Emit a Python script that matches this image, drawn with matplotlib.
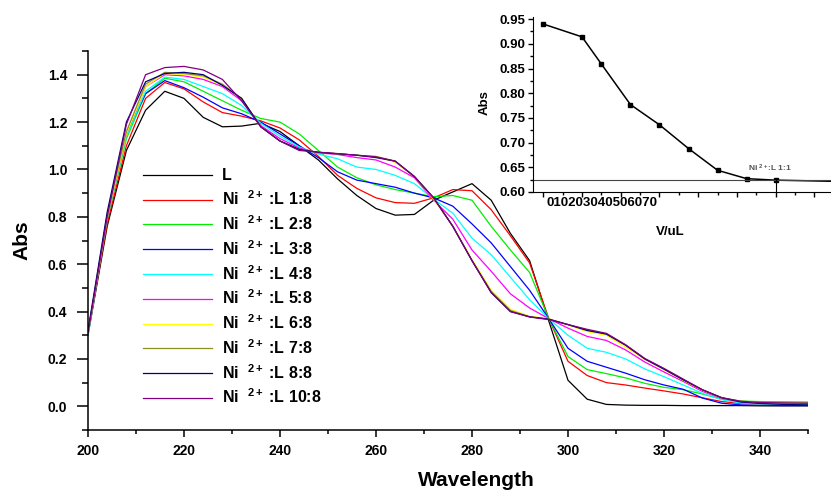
import matplotlib
matplotlib.use('Agg')
import matplotlib.pyplot as plt
from matplotlib.ticker import MultipleLocator

plt.rcParams['font.family'] = 'Liberation Sans'
plt.rcParams['font.weight'] = 'bold'
plt.rcParams['mathtext.fontset'] = 'custom'
plt.rcParams['mathtext.rm'] = 'Liberation Sans:bold'
plt.rcParams['mathtext.it'] = 'Liberation Sans:bold'
plt.rcParams['mathtext.bf'] = 'Liberation Sans:bold'
plt.rcParams['mathtext.default'] = 'rm'

# spettri UV-vis
wavelength = [200, 204, 208, 212, 216, 220, 224, 228, 232, 236, 240, 244, 248, 252,
              256, 260, 264, 268, 272, 276, 280, 284, 288, 292, 296, 300, 304, 308,
              312, 316, 320, 324, 328, 332, 336, 340, 345, 350]

abs_L = [0.30, 0.76, 1.08, 1.25, 1.33, 1.30, 1.22, 1.18, 1.183, 1.195, 1.16, 1.10, 1.04, 0.96,
         0.89, 0.835, 0.807, 0.81, 0.87, 0.905, 0.94, 0.87, 0.73, 0.615, 0.36, 0.11, 0.03, 0.008,
         0.005, 0.004, 0.004, 0.003, 0.003, 0.003, 0.003, 0.002, 0.002, 0.002]
abs_1_8 = [0.31, 0.77, 1.10, 1.30, 1.367, 1.34, 1.285, 1.24, 1.225, 1.205, 1.175, 1.125, 1.055, 0.975,
           0.92, 0.88, 0.86, 0.857, 0.88, 0.915, 0.91, 0.83, 0.72, 0.605, 0.37, 0.19, 0.13, 0.10,
           0.09, 0.077, 0.065, 0.052, 0.036, 0.02, 0.012, 0.01, 0.009, 0.008]
abs_2_8 = [0.31, 0.79, 1.13, 1.32, 1.385, 1.37, 1.33, 1.29, 1.25, 1.215, 1.20, 1.15, 1.08, 1.01,
           0.965, 0.935, 0.915, 0.90, 0.885, 0.89, 0.87, 0.76, 0.66, 0.565, 0.37, 0.21, 0.155, 0.138,
           0.12, 0.097, 0.08, 0.07, 0.052, 0.03, 0.022, 0.02, 0.019, 0.018]
abs_3_8 = [0.31, 0.80, 1.15, 1.32, 1.375, 1.345, 1.305, 1.26, 1.235, 1.20, 1.15, 1.10, 1.05, 0.99,
           0.955, 0.94, 0.925, 0.90, 0.88, 0.845, 0.77, 0.69, 0.59, 0.49, 0.37, 0.245, 0.19, 0.165,
           0.14, 0.112, 0.09, 0.072, 0.035, 0.013, 0.006, 0.004, 0.003, 0.003]
abs_4_8 = [0.30, 0.80, 1.14, 1.33, 1.39, 1.38, 1.35, 1.32, 1.27, 1.195, 1.14, 1.095, 1.065, 1.045,
           1.01, 1.0, 0.975, 0.94, 0.875, 0.815, 0.71, 0.64, 0.545, 0.45, 0.37, 0.30, 0.245, 0.228,
           0.20, 0.158, 0.125, 0.09, 0.055, 0.028, 0.014, 0.01, 0.009, 0.008]
abs_5_8 = [0.31, 0.80, 1.15, 1.35, 1.40, 1.395, 1.38, 1.35, 1.29, 1.185, 1.13, 1.09, 1.07, 1.063,
           1.05, 1.04, 1.01, 0.965, 0.87, 0.79, 0.66, 0.57, 0.475, 0.415, 0.37, 0.33, 0.295, 0.278,
           0.238, 0.187, 0.145, 0.105, 0.063, 0.033, 0.02, 0.015, 0.013, 0.011]
abs_6_8 = [0.31, 0.80, 1.15, 1.35, 1.405, 1.40, 1.39, 1.355, 1.30, 1.18, 1.12, 1.085, 1.072, 1.066,
           1.06, 1.055, 1.03, 0.97, 0.875, 0.76, 0.62, 0.49, 0.41, 0.38, 0.37, 0.343, 0.315, 0.30,
           0.25, 0.198, 0.155, 0.11, 0.068, 0.035, 0.02, 0.015, 0.013, 0.012]
abs_7_8 = [0.31, 0.81, 1.16, 1.36, 1.41, 1.405, 1.395, 1.36, 1.30, 1.18, 1.12, 1.085, 1.072, 1.066,
           1.06, 1.055, 1.035, 0.97, 0.88, 0.76, 0.615, 0.485, 0.405, 0.378, 0.368, 0.345, 0.322, 0.305,
           0.258, 0.20, 0.157, 0.112, 0.068, 0.036, 0.022, 0.017, 0.015, 0.014]
abs_8_8 = [0.32, 0.82, 1.20, 1.37, 1.405, 1.41, 1.40, 1.355, 1.30, 1.18, 1.12, 1.085, 1.072, 1.066,
           1.06, 1.05, 1.035, 0.97, 0.88, 0.76, 0.615, 0.48, 0.40, 0.378, 0.368, 0.345, 0.32, 0.305,
           0.258, 0.20, 0.157, 0.112, 0.07, 0.036, 0.018, 0.012, 0.008, 0.006]
abs_10_8 = [0.31, 0.80, 1.19, 1.40, 1.43, 1.435, 1.42, 1.38, 1.29, 1.18, 1.12, 1.08, 1.073, 1.067,
            1.06, 1.053, 1.035, 0.97, 0.88, 0.76, 0.615, 0.48, 0.40, 0.377, 0.366, 0.345, 0.325, 0.308,
            0.26, 0.202, 0.16, 0.115, 0.07, 0.037, 0.021, 0.016, 0.014, 0.013]

series = [abs_L, abs_1_8, abs_2_8, abs_3_8, abs_4_8, abs_5_8, abs_6_8, abs_7_8, abs_8_8, abs_10_8]
labels = ['L', 'Ni  $^{2+}$ :L 1:8', 'Ni  $^{2+}$ :L 2:8', 'Ni  $^{2+}$ :L 3:8', 'Ni  $^{2+}$ :L 4:8',
          'Ni  $^{2+}$ :L 5:8', 'Ni  $^{2+}$ :L 6:8', 'Ni  $^{2+}$ :L 7:8', 'Ni  $^{2+}$ :L 8:8',
          'Ni  $^{2+}$ :L 10:8']
colors = ['black', 'red', '#00ee00', 'blue', 'cyan', 'magenta', 'yellow', '#8f8f20', 'navy', 'purple']

# inserto: titolazione
volume = [0, 10, 15, 22.5, 30, 37.5, 45, 52.5, 60]
abs_inset = [0.940, 0.914, 0.859, 0.777, 0.736, 0.688, 0.644, 0.627, 0.624]
tail_x = [60, 76]
tail_y = [0.624, 0.6215]
plateau = 0.625

fig = plt.figure(figsize=(8.31, 4.91), dpi=100)
ax = fig.add_axes([88 / 831, 61 / 491, 720 / 831, 379 / 491])

for y, lab, c in zip(series, labels, colors):
    ax.plot(wavelength, y, color=c, lw=0.9, label=lab)

ax.set_xlim(200, 350)
ax.set_ylim(-0.1, 1.5)
ax.xaxis.set_major_locator(MultipleLocator(20))
ax.xaxis.set_minor_locator(MultipleLocator(10))
ax.yaxis.set_major_locator(MultipleLocator(0.2))
ax.yaxis.set_minor_locator(MultipleLocator(0.1))
ax.yaxis.set_major_formatter(plt.FuncFormatter(lambda v, p: '%.1f' % v))
for s in ['top', 'right']:
    ax.spines[s].set_visible(False)
for s in ['left', 'bottom']:
    ax.spines[s].set_linewidth(1.1)
ax.tick_params(which='both', direction='out', width=1.1, labelsize=10)
ax.tick_params(axis='x', which='major', length=5, pad=5)
ax.tick_params(axis='x', which='minor', length=3)
ax.tick_params(axis='y', which='major', length=8, pad=7)
ax.tick_params(axis='y', which='minor', length=4.3)
ax.set_ylabel('Abs', fontsize=15, fontweight='bold', labelpad=12)
ax.text(476 / 831, 1 - 480 / 491, 'Wavelength', transform=fig.transFigure,
        fontsize=15, fontweight='bold', ha='center', va='center')

leg = ax.legend(loc='upper left', bbox_to_anchor=(0.077, 0.69), frameon=False,
                fontsize=11.5, handlelength=4.3, handletextpad=0.6, labelspacing=0.38,
                borderpad=0, borderaxespad=0)

# inserto
ins = fig.add_axes([533 / 831, 299 / 491, 298 / 831, 175 / 491])
ins.plot(volume, abs_inset, color='black', lw=1.1, marker='s', ms=3.5)
ins.plot(tail_x, tail_y, color='black', lw=1.1)
ins.axhline(plateau, color='#444444', lw=0.8)
ins.plot([volume[-1], volume[-1]], [0.6, abs_inset[-1]], color='black', lw=0.8)
ins.set_xlim(-2.66, 74.3)
ins.set_ylim(0.6, 0.6 + 175 / 494)
ins.xaxis.set_major_locator(MultipleLocator(10))
ins.xaxis.set_minor_locator(MultipleLocator(5))
ins.yaxis.set_major_locator(MultipleLocator(0.05))
ins.yaxis.set_minor_locator(MultipleLocator(0.025))
ins.yaxis.set_major_formatter(plt.FuncFormatter(lambda v, p: '%.2f' % v))
ins.set_xticklabels([])
for s in ['top', 'right']:
    ins.spines[s].set_visible(False)
ins.tick_params(which='major', direction='out', length=3.6, width=1, labelsize=9.5, pad=2)
ins.tick_params(which='minor', direction='out', length=2.2, width=1)
ins.patch.set_alpha(0)
ins.text(0.044, -0.065, '010203040506070', transform=ins.transAxes, fontsize=9.5,
         fontweight='bold', ha='left', va='center')
ins.text(670 / 831, 1 - 232 / 491, 'V/uL', transform=fig.transFigure, fontsize=9.5,
         fontweight='bold', ha='center', va='center')
ins.text(485 / 831, 1 - 103 / 491, 'Abs', transform=fig.transFigure, fontsize=9.5,
         fontweight='bold', ha='center', va='center', rotation=90)
ins.text(52.9, 0.6486, 'Ni $^{2+}$:L 1:1', fontsize=6, color='#555555', ha='left', va='center')

fig.savefig('out.png', dpi=100)
